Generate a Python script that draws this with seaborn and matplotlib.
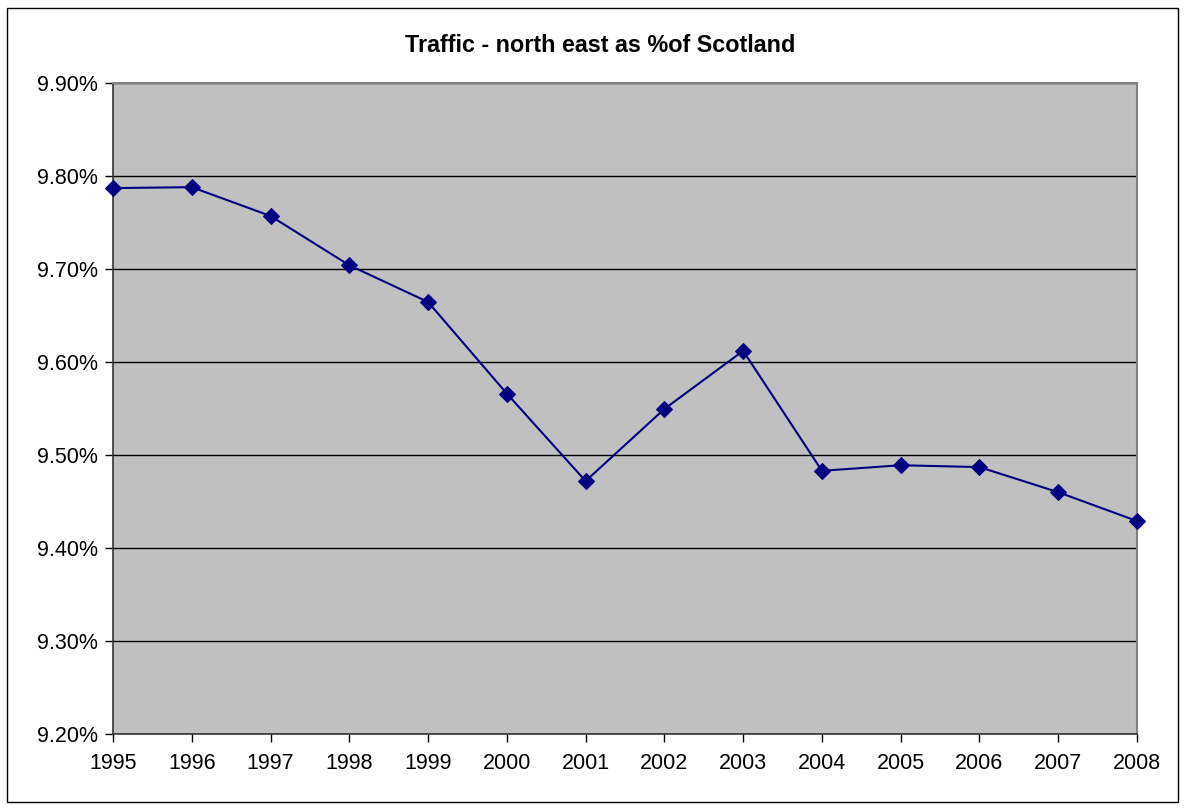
import matplotlib
matplotlib.use("Agg")
import matplotlib.pyplot as plt
import seaborn as sns
import pandas as pd
from matplotlib.ticker import FuncFormatter, MultipleLocator
from matplotlib.patches import Rectangle

years = [1995, 1996, 1997, 1998, 1999, 2000, 2001, 2002, 2003, 2004, 2005, 2006, 2007, 2008]
share = [9.787, 9.788, 9.757, 9.704, 9.6645, 9.566, 9.472, 9.5495, 9.612, 9.483, 9.489, 9.487, 9.460, 9.429]
title = "Traffic - north east as %of Scotland"

sns.set_style("white")
plt.rcParams['font.family'] = ['Liberation Sans', 'DejaVu Sans']
plt.rcParams['text.color'] = 'black'

df = pd.DataFrame({"year": years, "share": share})

fig = plt.figure(figsize=(11.86, 8.10), dpi=100)
ax = fig.add_axes([113/1186, 1 - 734/810, (1137-113)/1186, (734-83)/810])
ax.set_facecolor("#C0C0C0")

sns.lineplot(data=df, x="year", y="share", ax=ax, color="#000080", marker="D",
             markersize=8.5, markeredgecolor="#000080", linewidth=1.5, zorder=3,
             clip_on=False)

ax.set_xlim(years[0], years[-1])
ax.set_ylim(9.2, 9.9)
ax.yaxis.set_major_locator(MultipleLocator(0.1))
ax.set_xticks(years)
ax.set_xticklabels([str(y) for y in years])
ax.yaxis.set_major_formatter(FuncFormatter(lambda v, p: f"{v:.2f}%"))
ax.grid(axis="y", color="black", linewidth=1, zorder=1)
ax.set_axisbelow(True)
ax.set_xlabel("")
ax.set_ylabel("")
ax.tick_params(axis="both", labelsize=15.5, direction="out", length=6, width=1,
               colors="black", bottom=True, left=True)
ax.tick_params(axis="x", pad=8)
ax.tick_params(axis="y", pad=5)
for s in ["left", "bottom"]:
    ax.spines[s].set_color("#333333")
    ax.spines[s].set_linewidth(1.2)
for s in ["top", "right"]:
    ax.spines[s].set_color("#808080")
    ax.spines[s].set_linewidth(1.5)

fig.text(600/1186, 1 - 45/810, title, ha="center", va="center", fontsize=16.8,
         fontweight="bold", color="black")

fig.patches.append(Rectangle((7/1186, 8/810), (1178-7)/1186, (802-8)/810,
                             transform=fig.transFigure, fill=False, edgecolor="black", linewidth=1))

fig.savefig("out.png", dpi=100)
